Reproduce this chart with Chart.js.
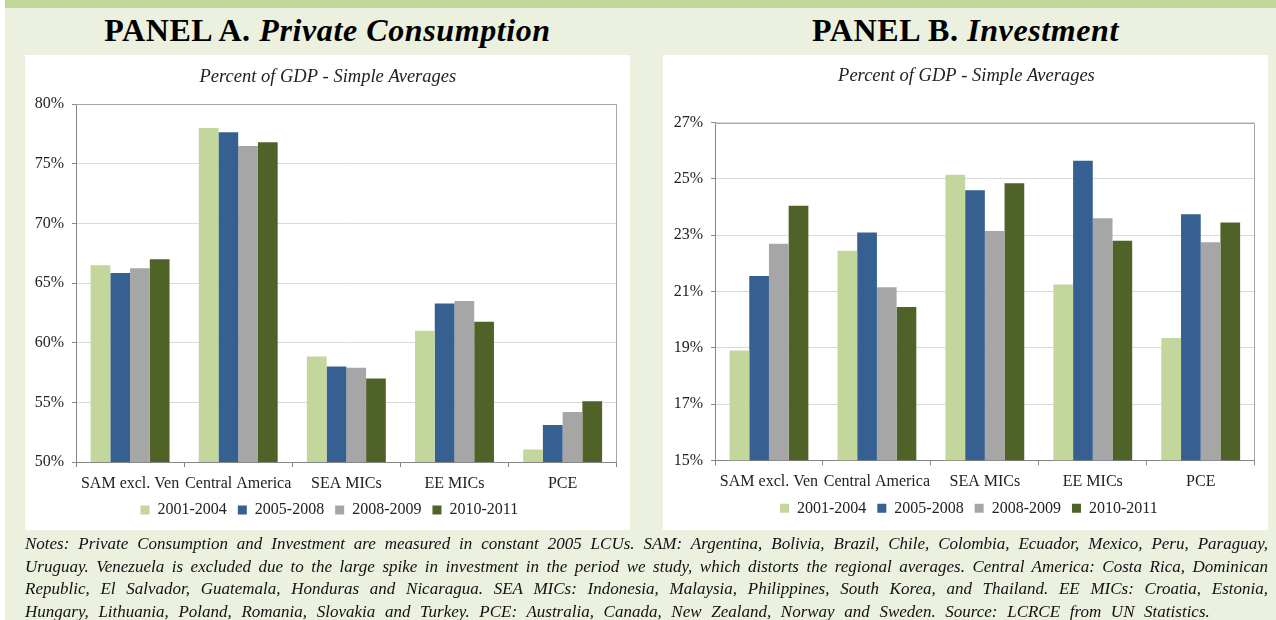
<!DOCTYPE html>
<html>
<head>
<meta charset="utf-8">
<script src="https://cdn.jsdelivr.net/npm/chart.js@4.4.1/dist/chart.umd.min.js"></script>
<style>
  body { margin: 0; width: 1276px; height: 620px; overflow: hidden; position: relative; background: #fff; font-family: "Liberation Serif", serif; }
  #bg { position: absolute; left: 5px; top: 0; width: 1271px; height: 620px; background: #EBF1DE; }
  #band { position: absolute; left: 5px; top: 0; width: 1271px; height: 8px; background: #C4D79B; }
  .box { position: absolute; top: 55px; width: 605px; height: 475px; background: #fff; }
  .ptitle { position: absolute; top: 14px; width: 605px; text-align: center; font-weight: bold; font-size: 32px; line-height: 32px; letter-spacing: 0.6px; color: #000; white-space: nowrap; }
  .ptitle i { font-style: italic; }
  .wrap { position: absolute; top: 55px; width: 605px; height: 490px; }
  .notes { position: absolute; left: 25px; top: 533px; width: 1243px; font-style: italic; font-size: 17px; line-height: 22.5px; color: #111; }
  .notes div { text-align: justify; text-align-last: justify; }
  .notes div.last { text-align-last: left; word-spacing: 5.4px; }
</style>
</head>
<body>
<div id="bg"></div>
<div id="band"></div>

<div class="box" style="left:25px"></div>
<div class="box" style="left:663px"></div>

<div class="ptitle" style="left:25px">PANEL A. <i>Private Consumption</i></div>
<div class="ptitle" style="left:663px">PANEL B. <i>Investment</i></div>

<div class="wrap" style="left:25px"><canvas id="chartA" width="605" height="490"></canvas></div>
<div class="wrap" style="left:663px"><canvas id="chartB" width="605" height="490"></canvas></div>

<div class="notes">
  <div>Notes: Private Consumption and Investment are measured in constant 2005 LCUs. SAM: Argentina, Bolivia, Brazil, Chile, Colombia, Ecuador, Mexico, Peru, Paraguay,</div>
  <div>Uruguay. Venezuela is excluded due to the large spike in investment in the period we study, which distorts the regional averages. Central America: Costa Rica, Dominican</div>
  <div>Republic, El Salvador, Guatemala, Honduras and Nicaragua. SEA MICs: Indonesia, Malaysia, Philippines, South Korea, and Thailand. EE MICs: Croatia, Estonia,</div>
  <div class="last">Hungary, Lithuania, Poland, Romania, Slovakia and Turkey. PCE: Australia, Canada, New Zealand, Norway and Sweden. Source: LCRCE from UN Statistics.</div>
</div>

<script>
// categories and periods
const categories = ['SAM excl. Ven', 'Central America', 'SEA MICs', 'EE MICs', 'PCE'];
const periods = ['2001-2004', '2005-2008', '2008-2009', '2010-2011'];

// panel A - private consumption, % of GDP
const consumption2001 = [66.5, 78.0, 58.85, 61.0, 51.05];
const consumption2005 = [65.85, 77.65, 58.0, 63.3, 53.1];
const consumption2008 = [66.25, 76.5, 57.9, 63.5, 54.2];
const consumption2010 = [67.0, 76.8, 57.0, 61.75, 55.1];

// panel B - investment, % of GDP
const investment2001 = [18.9, 22.45, 25.15, 21.25, 19.35];
const investment2005 = [21.55, 23.1, 24.6, 25.65, 23.75];
const investment2008 = [22.7, 21.15, 23.15, 23.6, 22.75];
const investment2010 = [24.05, 20.45, 24.85, 22.8, 23.45];

const colors = ['#C3D69B', '#376092', '#A6A6A6', '#4F6228'];
const serif = '"Liberation Serif", "Times New Roman", serif';

// grey frame on top and right of plot area
const frame = {
    id: 'frame',
    afterDatasetsDraw(chart) {
        const { ctx, chartArea: a } = chart;
        ctx.save();
        ctx.strokeStyle = '#A6A6A6';
        ctx.lineWidth = 1;
        ctx.beginPath();
        ctx.moveTo(a.left, Math.round(a.top) + 0.5);
        ctx.lineTo(Math.round(a.right) - 0.5, Math.round(a.top) + 0.5);
        ctx.lineTo(Math.round(a.right) - 0.5, a.bottom);
        ctx.stroke();
        ctx.restore();
    }
};

// title and legend sit a bit right of the canvas centre in the original
const nudge = {
    id: 'nudge',
    afterLayout(chart, args, opts) {
        chart.titleBlock.left += opts.title;
        chart.titleBlock.right += opts.title;
        chart.legend.left += opts.legend;
        chart.legend.right += opts.legend;
    }
};

function createGraph(id, series, yMin, yMax, step, pad, yWidth, titlePad, shift) {
    const ctx = document.getElementById(id).getContext('2d');
    return new Chart(ctx, {
        type: 'bar',
        data: {
            labels: categories,
            datasets: series.map((values, i) => ({
                label: periods[i],
                data: values,
                backgroundColor: colors[i],
                borderWidth: 0,
                categoryPercentage: 0.73,
                barPercentage: 1.0
            }))
        },
        options: {
            responsive: false,
            animation: false,
            devicePixelRatio: 1,
            layout: { padding: pad },
            scales: {
                x: {
                    grid: { drawOnChartArea: false, tickLength: 5, tickColor: '#868686', offset: true },
                    border: { color: '#868686' },
                    ticks: { color: '#222', font: { family: serif, size: 16 }, padding: 7, maxRotation: 0, autoSkip: false },
                    afterFit: (scale) => { scale.height = 29; }
                },
                y: {
                    min: yMin,
                    max: yMax,
                    grid: { color: '#D9D9D9', tickColor: '#868686', tickLength: 4 },
                    border: { color: '#868686' },
                    ticks: {
                        stepSize: step,
                        color: '#222',
                        padding: 8,
                        font: { family: serif, size: 16 },
                        callback: (v) => v + '%'
                    },
                    afterFit: (scale) => { scale.width = yWidth; }
                }
            },
            plugins: {
                title: {
                    display: true,
                    text: 'Percent of GDP - Simple Averages',
                    color: '#222',
                    font: { family: serif, size: 18.5, style: 'italic', weight: 'normal' },
                    padding: titlePad
                },
                legend: {
                    position: 'bottom',
                    labels: { boxWidth: 9, boxHeight: 9, padding: 11, color: '#222', font: { family: serif, size: 16 } }
                },
                tooltip: { enabled: false },
                nudge: shift
            }
        },
        plugins: [frame, nudge]
    });
}

window.onload = function() {
    createGraph('chartA', [consumption2001, consumption2005, consumption2008, consumption2010],
        50, 80, 5, { left: 0, right: 13.3, top: 0, bottom: 17 }, 51,
        { top: 11, bottom: 16 }, { title: 7, legend: 8.5 });
    createGraph('chartB', [investment2001, investment2005, investment2008, investment2010],
        15, 27, 2, { left: 0, right: 13.3, top: 0, bottom: 18.7 }, 52,
        { top: 10, bottom: 35.5 }, { title: 7.6, legend: 10 });
};
</script>
</body>
</html>
